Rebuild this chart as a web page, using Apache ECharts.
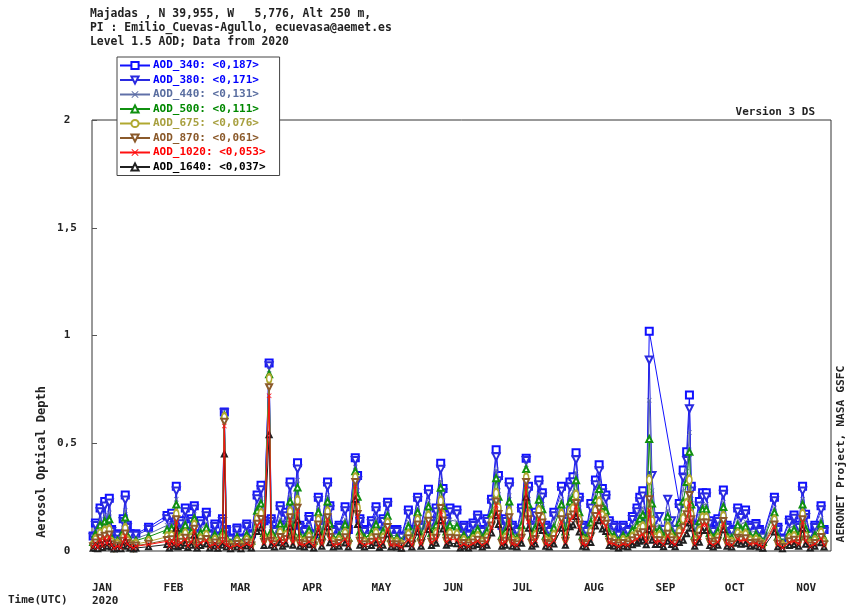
<!DOCTYPE html>
<html><head><meta charset="utf-8">
<script src="https://cdn.jsdelivr.net/npm/echarts@6/dist/echarts.min.js"></script>
<style>html,body{margin:0;padding:0;background:#fff}#c{width:850px;height:606px}</style>
</head><body><div id="c"></div>
<script>
// Day of year 2020 (0 = Jan 1)
const days = [0.5,1.5,2.5,3.5,4.5,5.5,6.5,7.5,8.5,9.5,
 11,12.5,13.5,14.4,15.3,16.5,18,19,24.5,32.5,
 33.5,34.5,35.5,36.5,37.3,38.5,40.4,41.5,43,44.3,
 45.5,47,49.5,51,53.2,54.5,56.5,57.3,58.2,60,
 62.8,64.5,67,69,71.5,73.2,74.5,76.7,77.6,79,
 81.5,82.5,84,85.8,87,89,90,92,94,96,
 98,99.5,102,103,104.5,107,109.6,111,114,115,
 116,118,121,123,124.5,126,128,129.5,132,134,
 137,138.5,141,142.5,145.7,147,149,151,152,153.5,
 155,158,159.5,161,163,165,167,169,171,173,
 175,176,177.5,179,180.7,182,184,186,188,189,
 190.5,192,193.5,195,196.5,198,200,203.3,205,207,
 208.3,209.6,211,212.5,214,216,218,219.6,221,222.5,
 224,226,228,230,232,234,236,237.2,238.5,240,
 241.3,242.5,244,245.7,247.5,249.3,251,252.5,254.3,256,
 257.5,258.7,259.5,261,263,264.4,266,267.5,269,271,
 273.4,275,277,279.6,281,283,285,287.5,289,290.5,
 295.5,297,299,302,304,306,307.7,309,311,313,
 315.7,317];

const aod340 = [.07,.13,.06,.20,.09,.23,.12,.245,.10,.05,
 .08,.06,.15,.26,.12,.08,.05,.08,.11,.165,
 .08,.175,.12,.30,.10,.14,.20,.09,.15,.21,
 .08,.14,.18,.08,.125,.07,.15,.645,.10,.06,
 .107,.06,.125,.08,.26,.305,.14,.872,.15,.10,
 .21,.12,.18,.32,.15,.41,.12,.10,.16,.08,
 .25,.12,.32,.21,.10,.12,.205,.10,.433,.35,
 .15,.10,.14,.205,.09,.15,.226,.10,.10,.07,
 .19,.10,.25,.12,.286,.14,.20,.407,.29,.15,
 .20,.19,.08,.12,.08,.13,.167,.10,.15,.24,
 .47,.35,.12,.15,.32,.12,.10,.20,.43,.30,
 .12,.18,.33,.27,.12,.10,.18,.30,.15,.32,
 .345,.456,.25,.12,.10,.22,.33,.40,.29,.26,
 .14,.12,.08,.12,.10,.16,.20,.25,.28,.16,
 1.02,null,null,null,null,null,null,null,.22,.376,
 .46,.724,.30,.12,.23,.27,.27,.14,.10,.15,
 .283,.12,.10,.20,.17,.19,.12,.128,.10,.07,
 .25,.11,.06,.144,.167,.12,.30,.17,.08,.12,
 .21,.10];

const aod380 = [.064,.118,.055,.182,.082,.209,.109,.223,.091,.046,
 .073,.055,.137,.237,.109,.073,.046,.073,.100,.150,
 .073,.159,.109,.279,.091,.127,.182,.082,.137,.195,
 .073,.127,.164,.073,.114,.064,.137,.64,.091,.055,
 .097,.055,.114,.073,.242,.284,.127,.86,.137,.091,
 .191,.109,.164,.298,.137,.381,.109,.091,.146,.073,
 .233,.109,.298,.191,.091,.109,.187,.091,.42,.326,
 .137,.091,.127,.187,.082,.137,.210,.091,.091,.064,
 .173,.091,.233,.109,.266,.127,.182,.379,.270,.137,
 .182,.173,.073,.109,.073,.118,.152,.091,.137,.223,
 .437,.326,.109,.137,.298,.109,.091,.182,.42,.279,
 .109,.164,.307,.251,.109,.091,.164,.279,.137,.298,
 .321,.424,.233,.109,.091,.200,.307,.372,.270,.242,
 .127,.109,.073,.109,.091,.146,.182,.228,.255,.146,
 .886,.35,.14,.16,.10,.24,.14,.10,.200,.34,
 .42,.66,.279,.109,.209,.251,.251,.127,.091,.137,
 .263,.109,.091,.182,.155,.173,.109,.116,.091,.064,
 .233,.100,.055,.131,.152,.109,.279,.155,.073,.109,
 .191,.091];

const aod440 = [.050,.094,.043,.144,.065,.166,.086,.176,.072,.036,
 .058,.043,.108,.187,.086,.058,.036,.058,.079,.119,
 .058,.126,.086,.240,.072,.101,.144,.065,.108,.168,
 .058,.101,.130,.058,.090,.050,.108,.63,.072,.043,
 .077,.043,.090,.058,.208,.244,.101,.84,.108,.072,
 .151,.086,.130,.256,.108,.328,.086,.072,.115,.058,
 .200,.086,.256,.151,.072,.086,.148,.072,.39,.280,
 .108,.072,.101,.148,.065,.108,.181,.072,.072,.050,
 .137,.072,.200,.086,.229,.101,.144,.326,.232,.108,
 .144,.137,.058,.086,.058,.094,.120,.072,.108,.192,
 .376,.280,.086,.108,.256,.086,.072,.144,.40,.240,
 .086,.130,.264,.216,.086,.072,.130,.240,.108,.256,
 .276,.365,.200,.086,.072,.158,.264,.320,.232,.208,
 .101,.086,.058,.086,.072,.115,.144,.180,.202,.115,
 .70,.28,.11,.12,.08,.19,.11,.08,.158,.28,
 .37,.55,.240,.086,.166,.216,.216,.101,.072,.108,
 .226,.086,.072,.144,.122,.137,.086,.092,.072,.050,
 .200,.079,.043,.104,.120,.086,.240,.122,.058,.086,
 .151,.072];

const aod500 = [.042,.078,.036,.120,.054,.138,.072,.147,.060,.030,
 .048,.036,.090,.156,.072,.048,.030,.048,.066,.099,
 .048,.105,.072,.216,.060,.084,.120,.054,.090,.151,
 .048,.084,.108,.048,.075,.042,.090,.63,.060,.036,
 .064,.036,.075,.048,.187,.220,.084,.82,.090,.060,
 .126,.072,.108,.230,.090,.295,.072,.060,.096,.048,
 .180,.072,.230,.126,.060,.072,.123,.060,.37,.252,
 .090,.060,.084,.123,.054,.090,.163,.060,.060,.042,
 .114,.060,.180,.072,.206,.084,.120,.293,.209,.090,
 .120,.114,.048,.072,.048,.078,.100,.060,.090,.173,
 .338,.252,.072,.090,.230,.072,.060,.120,.38,.216,
 .072,.108,.238,.194,.072,.060,.108,.216,.090,.230,
 .248,.328,.180,.072,.060,.132,.238,.288,.209,.187,
 .084,.072,.048,.072,.060,.096,.120,.150,.168,.096,
 .52,.22,.09,.10,.065,.16,.09,.065,.132,.23,
 .32,.46,.216,.072,.138,.194,.194,.084,.060,.090,
 .204,.072,.060,.120,.102,.114,.072,.077,.060,.042,
 .180,.066,.036,.086,.100,.072,.216,.102,.048,.072,
 .126,.060];

const aod675 = [.028,.052,.024,.080,.036,.092,.048,.098,.040,.020,
 .032,.024,.060,.104,.048,.032,.020,.032,.044,.066,
 .032,.070,.048,.171,.040,.056,.080,.036,.060,.120,
 .032,.056,.072,.032,.050,.028,.060,.62,.040,.024,
 .043,.024,.050,.032,.148,.174,.056,.80,.060,.040,
 .084,.048,.072,.182,.060,.234,.048,.040,.064,.032,
 .143,.048,.182,.084,.040,.048,.082,.040,.34,.200,
 .060,.040,.056,.082,.036,.060,.129,.040,.040,.028,
 .076,.040,.143,.048,.163,.056,.080,.232,.165,.060,
 .080,.076,.032,.048,.032,.052,.067,.040,.060,.137,
 .268,.200,.048,.060,.182,.048,.040,.080,.34,.171,
 .048,.072,.188,.154,.048,.040,.072,.171,.060,.182,
 .197,.260,.143,.048,.040,.088,.188,.228,.165,.148,
 .056,.048,.032,.048,.040,.064,.080,.100,.112,.064,
 .33,.14,.06,.07,.045,.11,.06,.045,.088,.15,
 .22,.33,.171,.048,.092,.154,.154,.056,.040,.060,
 .161,.048,.040,.080,.068,.076,.048,.051,.040,.028,
 .143,.044,.024,.058,.067,.048,.171,.068,.032,.048,
 .084,.040];

const aod870 = [.022,.040,.019,.062,.028,.071,.037,.076,.031,.016,
 .025,.019,.047,.081,.037,.025,.016,.025,.034,.051,
 .025,.054,.037,.147,.031,.043,.062,.028,.047,.103,
 .025,.043,.056,.025,.039,.022,.047,.60,.031,.019,
 .033,.019,.039,.025,.127,.149,.043,.76,.047,.031,
 .065,.037,.056,.157,.047,.201,.037,.031,.050,.025,
 .123,.037,.157,.065,.031,.037,.064,.031,.32,.172,
 .047,.031,.043,.064,.028,.047,.111,.031,.031,.022,
 .059,.031,.123,.037,.140,.043,.062,.199,.142,.047,
 .062,.059,.025,.037,.025,.040,.052,.031,.047,.118,
 .230,.172,.037,.047,.157,.037,.031,.062,.32,.147,
 .037,.056,.162,.132,.037,.031,.056,.147,.047,.157,
 .169,.223,.123,.037,.031,.068,.162,.196,.142,.127,
 .043,.037,.025,.037,.031,.050,.062,.078,.087,.050,
 .24,.10,.05,.05,.035,.08,.05,.035,.068,.11,
 .17,.26,.147,.037,.071,.132,.132,.043,.031,.047,
 .139,.037,.031,.062,.053,.059,.037,.040,.031,.022,
 .123,.034,.019,.045,.052,.037,.147,.053,.025,.037,
 .065,.031];

const aod1020 = [.019,.035,.016,.054,.024,.062,.032,.066,.027,.014,
 .022,.016,.041,.070,.032,.022,.014,.022,.030,.045,
 .022,.047,.032,.135,.027,.038,.054,.024,.041,.095,
 .022,.038,.049,.022,.034,.019,.041,.58,.027,.016,
 .029,.016,.034,.022,.117,.137,.038,.72,.041,.027,
 .057,.032,.049,.144,.041,.185,.032,.027,.043,.022,
 .113,.032,.144,.057,.027,.032,.055,.027,.30,.158,
 .041,.027,.038,.055,.024,.041,.102,.027,.027,.019,
 .051,.027,.113,.032,.129,.038,.054,.183,.131,.041,
 .054,.051,.022,.032,.022,.035,.045,.027,.041,.108,
 .212,.158,.032,.041,.144,.032,.027,.054,.30,.135,
 .032,.049,.149,.122,.032,.027,.049,.135,.041,.144,
 .155,.205,.113,.032,.027,.059,.149,.180,.131,.117,
 .038,.032,.022,.032,.027,.043,.054,.068,.076,.043,
 .19,.08,.04,.045,.03,.07,.04,.03,.059,.09,
 .14,.22,.135,.032,.062,.122,.122,.038,.027,.041,
 .127,.032,.027,.054,.046,.051,.032,.035,.027,.019,
 .113,.030,.016,.039,.045,.032,.135,.046,.022,.032,
 .057,.027];

const aod1640 = [.013,.023,.011,.036,.016,.041,.022,.044,.018,.009,
 .014,.011,.027,.047,.022,.014,.009,.014,.020,.030,
 .014,.032,.022,.105,.018,.025,.036,.016,.027,.074,
 .014,.025,.032,.014,.023,.013,.027,.45,.018,.011,
 .019,.011,.023,.014,.091,.107,.025,.54,.027,.018,
 .038,.022,.032,.112,.027,.144,.022,.018,.029,.014,
 .088,.022,.112,.038,.018,.022,.037,.018,.24,.123,
 .027,.018,.025,.037,.016,.027,.079,.018,.018,.013,
 .034,.018,.088,.022,.100,.025,.036,.142,.102,.027,
 .036,.034,.014,.022,.014,.023,.030,.018,.027,.084,
 .165,.123,.022,.027,.112,.022,.018,.036,.25,.105,
 .022,.032,.116,.095,.022,.018,.032,.105,.027,.112,
 .121,.160,.088,.022,.018,.040,.116,.140,.102,.091,
 .025,.022,.014,.022,.018,.029,.036,.045,.050,.029,
 .10,.05,.03,.03,.02,.045,.03,.02,.040,.05,
 .08,.13,.105,.022,.041,.095,.095,.025,.018,.027,
 .099,.022,.018,.036,.031,.034,.022,.023,.018,.013,
 .088,.020,.011,.026,.030,.022,.105,.031,.014,.022,
 .038,.018];

const seriesNames = ['AOD_340: <0,187>','AOD_380: <0,171>','AOD_440: <0,131>','AOD_500: <0,111>',
  'AOD_675: <0,076>','AOD_870: <0,061>','AOD_1020: <0,053>','AOD_1640: <0,037>'];
const seriesValues = [aod340,aod380,aod440,aod500,aod675,aod870,aod1020,aod1640];
const monthStarts = [0,31,60,91,121,152,182,213,244,274,305];
const monthLabels = ['JAN','FEB','MAR','APR','MAY','JUN','JUL','AUG','SEP','OCT','NOV'];
const yTicks = [0,0.5,1,1.5,2];
const yTickLabels = ['0','0,5','1','1,5','2'];

const colors = ['#1010ff','#2a2ae0','#6070a8','#109010','#b0a830','#8b5a2b','#ff1010','#202020'];
const textColors = ['#0000ff','#0000ff','#5a6ea0','#008800','#a8a040','#8b5a2b','#ff0000','#000000'];
const XPATH = 'path://M0,1L1,0L5,4L9,0L10,1L6,5L10,9L9,10L5,6L1,10L0,9L4,5Z';
const symbols = [
  {symbol:'emptyRect', size:7, rotate:0},
  {symbol:'emptyTriangle', size:7, rotate:180},
  {symbol:XPATH, size:5, rotate:0},
  {symbol:'emptyTriangle', size:6, rotate:0},
  {symbol:'emptyCircle', size:[5,9], rotate:0},
  {symbol:'emptyTriangle', size:6, rotate:180},
  {symbol:XPATH, size:5, rotate:0},
  {symbol:'emptyTriangle', size:5, rotate:0}
];
const zOrder = [2,3,4,5,6,7,9,8];
const MONO = '"DejaVu Sans Mono", "Liberation Mono", monospace';

const series = seriesNames.map((name, k) => ({
  name: name,
  type: 'line',
  data: days.map((d, i) => [d, seriesValues[k][i]]),
  connectNulls: true,
  symbol: symbols[k].symbol,
  symbolSize: symbols[k].size,
  symbolRotate: symbols[k].rotate,
  showAllSymbol: true,
  color: colors[k],
  lineStyle: {width: 1, color: colors[k]},
  itemStyle: {color: colors[k], borderWidth: 1},
  emphasis: {disabled: true},
  z: zOrder[k]
}));

const chart = echarts.init(document.getElementById('c'), null, {renderer: 'canvas'});
chart.setOption({
  animation: false,
  backgroundColor: '#fff',
  grid: {left: 92, right: 19, top: 120, bottom: 55, show: true, borderColor: '#333', borderWidth: 1, backgroundColor: '#fff'},
  xAxis: {
    type: 'value', min: 0, max: 320,
    axisLine: {show: false}, splitLine: {show: false},
    axisTick: {show: false},
    axisLabel: {
      customValues: monthStarts,
      formatter: v => monthLabels[monthStarts.indexOf(Math.round(v))] || '',
      align: 'left', margin: 32,
      fontFamily: MONO, fontSize: 11, fontWeight: 'bold', color: '#222'
    }
  },
  yAxis: {
    type: 'value', min: 0, max: 2, interval: 0.5,
    axisLine: {show: false}, splitLine: {show: false},
    axisTick: {show: true, inside: true, length: 5, lineStyle: {color: '#555'}},
    axisLabel: {
      formatter: v => yTickLabels[yTicks.indexOf(v)],
      align: 'center', margin: 25,
      fontFamily: MONO, fontSize: 11, fontWeight: 'bold', color: '#222'
    }
  },
  legend: {
    orient: 'vertical', left: 117, top: 57,
    itemWidth: 30, itemHeight: 9, itemGap: 3.5,
    padding: [3, 14, 3, 2],
    backgroundColor: '#fff', borderColor: '#444', borderWidth: 1,
    selectedMode: false, z: 20,
    textStyle: {fontFamily: MONO, fontSize: 11, fontWeight: 'bold', padding: [0,0,0,-2]},
    data: seriesNames.map((n, k) => ({name: n, textStyle: {color: textColors[k]}}))
  },
  graphic: [
    {type: 'text', left: 90, top: 9, z: 30, style: {text: 'Majadas , N 39,955, W   5,776, Alt 250 m,', font: 'bold 11.4px ' + MONO, fill: '#222'}},
    {type: 'text', left: 90, top: 23, z: 30, style: {text: 'PI : Emilio_Cuevas-Agullo, ecuevasa@aemet.es', font: 'bold 11.4px ' + MONO, fill: '#222'}},
    {type: 'text', left: 90, top: 37, z: 30, style: {text: 'Level 1.5 AOD; Data from 2020', font: 'bold 11.4px ' + MONO, fill: '#222'}},
    {type: 'text', right: 35, top: 107, z: 30, style: {text: 'Version 3 DS', font: 'bold 11px ' + MONO, fill: '#222'}},
    {type: 'text', left: 8, top: 595, z: 30, style: {text: 'Time(UTC)', font: 'bold 11px ' + MONO, fill: '#222'}},
    {type: 'text', left: 92, top: 596, z: 30, style: {text: '2020', font: 'bold 11px ' + MONO, fill: '#222'}},
    {type: 'text', x: 42, y: 462, rotation: Math.PI / 2, z: 30,
      style: {text: 'Aerosol Optical Depth', font: 'bold 12px ' + MONO, fill: '#222', align: 'center', verticalAlign: 'middle'}},
    {type: 'text', x: 841, y: 454, rotation: Math.PI / 2, z: 30,
      style: {text: 'AERONET Project, NASA GSFC', font: 'bold 11.3px ' + MONO, fill: '#222', align: 'center', verticalAlign: 'middle'}}
  ],
  series: series
});
</script></body></html>
